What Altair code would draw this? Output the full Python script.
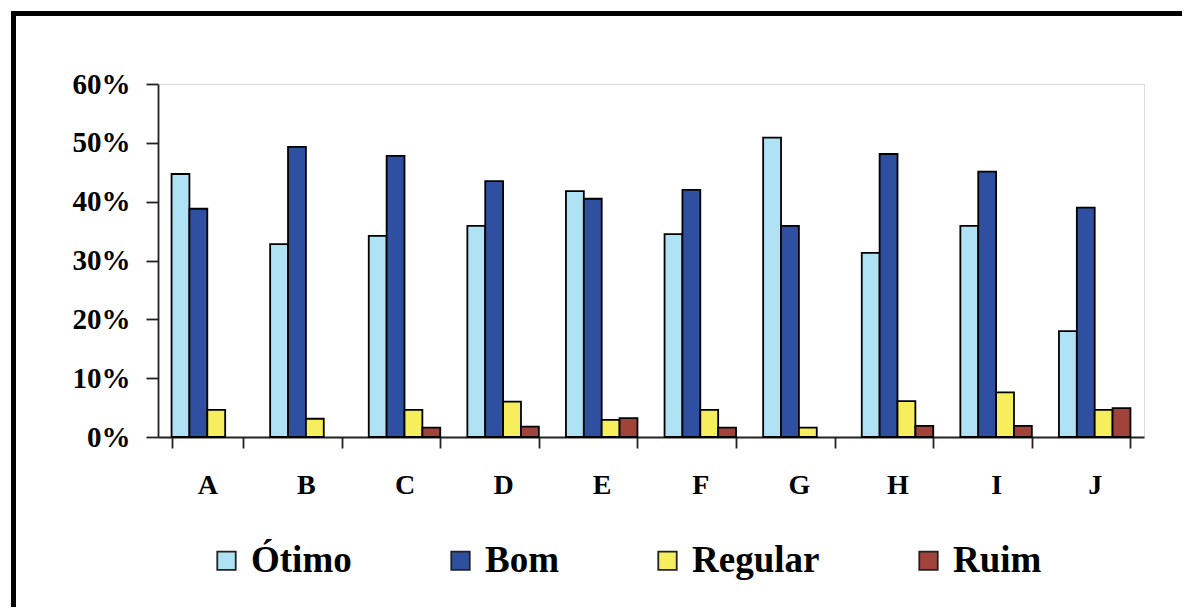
import altair as alt
import pandas as pd

categorias = ["A", "B", "C", "D", "E", "F", "G", "H", "I", "J"]
series = ["Ótimo", "Bom", "Regular", "Ruim"]
otimo = [44.7, 32.8, 34.2, 35.9, 41.8, 34.5, 50.9, 31.3, 35.9, 18.0]
bom = [38.8, 49.3, 47.8, 43.5, 40.5, 42.0, 35.9, 48.1, 45.1, 39.0]
regular = [4.6, 3.1, 4.6, 6.0, 2.9, 4.6, 1.6, 6.1, 7.6, 4.6]
ruim = [0.0, 0.0, 1.6, 1.75, 3.2, 1.6, 0.0, 1.9, 1.9, 4.9]
cores = ["#b0e2f5", "#2f50a0", "#f6ee5c", "#a2433b"]
y_ticks = [0, 0.1, 0.2, 0.3, 0.4, 0.5, 0.6]

rows = []
for s, vals in zip(series, [otimo, bom, regular, ruim]):
    for c, v in zip(categorias, vals):
        if v > 0:
            rows.append({"cat": c, "serie": s, "valor": v / 100})
df = pd.DataFrame(rows)

W, H = 986, 353
PL, PT, PR, PB = 150, 76, 38, 170
font = "Liberation Serif"

bars = alt.Chart(df).mark_bar(stroke="black", strokeWidth=1.8).encode(
    x=alt.X(
        "cat:N", sort=categorias, title=None,
        scale=alt.Scale(paddingInner=0.275, paddingOuter=0.1375),
        axis=alt.Axis(
            labelAngle=0, tickBand="extent", tickSize=11, labelPadding=23,
            labelFont=font, labelFontSize=28, labelFontWeight="bold",
            labelColor="black", domainColor="#222222", tickColor="#222222",
            domainWidth=1.8, tickWidth=1.8,
        ),
    ),
    xOffset=alt.XOffset(
        "serie:N", sort=series,
        scale=alt.Scale(domain=series, paddingInner=0, paddingOuter=0),
    ),
    y=alt.Y(
        "valor:Q", title=None,
        scale=alt.Scale(domain=[0, 0.6], nice=False),
        axis=alt.Axis(
            format=".0%", values=y_ticks, grid=False, tickSize=12,
            labelPadding=16, labelFont=font, labelFontSize=29,
            labelFontWeight="bold", labelColor="black",
            domainColor="#222222", tickColor="#222222",
            domainWidth=1.8, tickWidth=1.8,
        ),
    ),
    color=alt.Color(
        "serie:N", sort=series,
        scale=alt.Scale(domain=series, range=cores),
        legend=alt.Legend(
            title=None, orient="none", legendX=50, legendY=458,
            direction="horizontal", symbolType="square", symbolSize=340,
            symbolStrokeColor="#222222", symbolStrokeWidth=1.8,
            symbolOpacity=1, labelFont=font, labelFontSize=37,
            labelFontWeight="bold", labelColor="black",
            columnPadding=90, labelOffset=6, labelLimit=300,
        ),
    ),
)

frame_df = pd.DataFrame({"k": [0]})
top_border = alt.Chart(frame_df).mark_rule(color="black", strokeWidth=5).encode(
    x=alt.value(-147), x2=alt.value(W + PR), y=alt.value(-70.5)
)
left_border = alt.Chart(frame_df).mark_rule(color="black", strokeWidth=5).encode(
    x=alt.value(-144.5), y=alt.value(-73), y2=alt.value(H + PB)
)

chart = alt.layer(bars, top_border, left_border).properties(
    width=W, height=H,
    autosize=alt.AutoSizeParams(type="none"),
    padding={"left": PL, "top": PT, "right": PR, "bottom": PB},
).configure_view(stroke=None).configure(background="white")

chart.save("out.html", embed_options={"renderer": "svg", "actions": False})
